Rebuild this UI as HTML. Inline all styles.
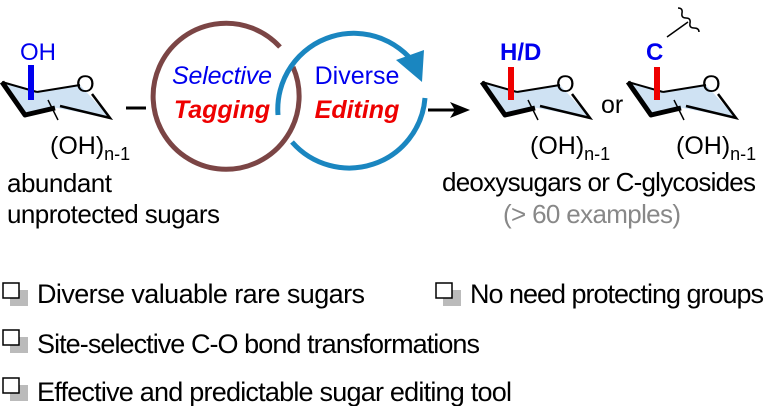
<!DOCTYPE html>
<html><head><meta charset="utf-8"><style>
html,body{margin:0;padding:0;background:#fff;}
svg{display:block;font-family:"Liberation Sans",Arial,sans-serif;}
</style></head><body>
<svg width="766" height="406" viewBox="0 0 766 406" xmlns="http://www.w3.org/2000/svg">
<defs>
<g id="chair">
  <polygon points="2,82 37,92 80,85 110,118 57,108 43,112 25,115" fill="#cfe2f3"/>
  <polyline points="37,92 80,85" fill="none" stroke="#000" stroke-width="2"/>
  <polyline points="2,82 25,115 55,108" fill="none" stroke="#000" stroke-width="5" stroke-linejoin="round"/>
  <polyline points="2,82 37,92" fill="none" stroke="#000" stroke-width="2"/>
  <polyline points="60,106 110,118 92,94" fill="none" stroke="#000" stroke-width="2.5"/>
  <line x1="48" y1="100" x2="58" y2="120" stroke="#000" stroke-width="1.5"/>
  <text x="76" y="92" font-size="24">O</text>
  <text x="50" y="154" font-size="25">(OH)<tspan font-size="18" dy="6">n-1</tspan></text>
</g>
</defs>
<use href="#chair"/>
<line x1="31" y1="65" x2="31" y2="100" stroke="#0000ee" stroke-width="6"/>
<text x="20" y="60" font-size="24" fill="#0000ee">OH</text>
<text x="7" y="192" font-size="26" textLength="105">abundant</text>
<text x="7" y="223" font-size="26" textLength="213">unprotected sugars</text>
<line x1="126" y1="108" x2="146" y2="108" stroke="#000" stroke-width="3"/>
<path d="M293,67 A73,73 0 1 1 280,47" fill="none" stroke="#7b4545" stroke-width="5"/>
<path d="M278,115 A76,76 0 0 1 420,72" fill="none" stroke="#1a86c0" stroke-width="5"/>
<polygon points="396,60 424,50 422,82" fill="#1a86c0"/>
<path d="M425,98 A76,76 0 0 1 292,142" fill="none" stroke="#1a86c0" stroke-width="5"/>
<text x="222" y="84" font-size="25" fill="#0000ee" font-style="italic" text-anchor="middle" textLength="100">Selective</text>
<text x="222" y="118" font-size="25" fill="#ee0000" font-style="italic" font-weight="bold" text-anchor="middle">Tagging</text>
<text x="357" y="84" font-size="25" fill="#0000ee" text-anchor="middle">Diverse</text>
<text x="357" y="118" font-size="25" fill="#ee0000" font-style="italic" font-weight="bold" text-anchor="middle">Editing</text>
<line x1="428" y1="110" x2="458" y2="110" stroke="#000" stroke-width="3"/>
<polygon points="450,102 470,110 450,118 455,110" fill="#000"/>
<use href="#chair" transform="translate(480,0)"/>
<line x1="511" y1="67" x2="511" y2="100" stroke="#ee0000" stroke-width="6"/>
<text x="500" y="60" font-size="24" font-weight="bold" fill="#0000ee">H/D</text>
<text x="601" y="113" font-size="25">or</text>
<use href="#chair" transform="translate(626,0)"/>
<line x1="657" y1="67" x2="657" y2="100" stroke="#ee0000" stroke-width="6"/>
<text x="646" y="60" font-size="24" font-weight="bold" fill="#0000ee">C</text>
<line x1="667" y1="37" x2="688" y2="22" stroke="#000" stroke-width="1.5"/>
<path d="M678,8 q5,0 4,5 t4,5 t4,5 t4,5 t5,4" fill="none" stroke="#000" stroke-width="1.5"/>
<text x="442" y="191" font-size="26" textLength="314">deoxysugars or C-glycosides</text>
<text x="503" y="223" font-size="26" fill="#888" textLength="178">(&gt; 60 examples)</text>
<g font-size="27">
  <rect x="10" y="290" width="18" height="16" fill="#bbb"/>
  <rect x="3" y="283" width="16" height="15" fill="#fff" stroke="#000" stroke-width="1.5"/>
  <text x="37" y="303" textLength="328">Diverse valuable rare sugars</text>
  <rect x="443" y="290" width="18" height="16" fill="#bbb"/>
  <rect x="436" y="283" width="16" height="15" fill="#fff" stroke="#000" stroke-width="1.5"/>
  <text x="470" y="303" textLength="294">No need protecting groups</text>
  <rect x="10" y="337" width="18" height="16" fill="#bbb"/>
  <rect x="3" y="330" width="16" height="15" fill="#fff" stroke="#000" stroke-width="1.5"/>
  <text x="37" y="353" textLength="443">Site-selective C-O bond transformations</text>
  <rect x="10" y="385" width="18" height="16" fill="#bbb"/>
  <rect x="3" y="378" width="16" height="15" fill="#fff" stroke="#000" stroke-width="1.5"/>
  <text x="37" y="401" textLength="475">Effective and predictable sugar editing tool</text>
</g>
</svg>
</body></html>
